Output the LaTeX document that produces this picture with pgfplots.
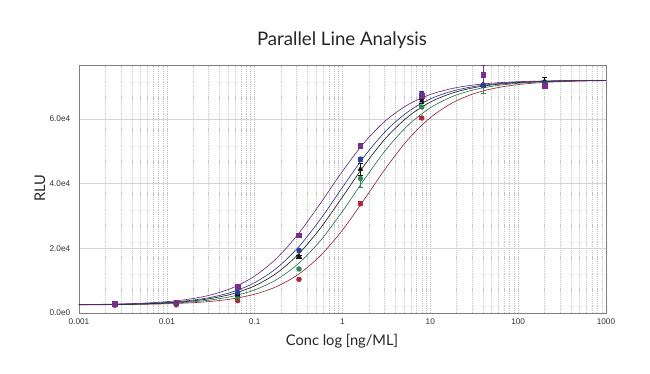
\documentclass[border=0pt]{standalone}
\usepackage{pgfplots}
\pgfplotsset{compat=1.18}
\usepackage{fontspec}
\setmainfont{Lato}
\newfontfamily\tickfont{Liberation Sans}
\definecolor{cpur}{HTML}{7A2E8C}
\definecolor{cblu}{HTML}{27409A}
\definecolor{cblk}{HTML}{111111}
\definecolor{cgrn}{HTML}{2C8A55}
\definecolor{cred}{HTML}{B3263A}
\definecolor{gridmaj}{HTML}{D4D4D4}
\definecolor{gridmin}{HTML}{C6C6C6}
\begin{document}
\begin{tikzpicture}
\path (0pt,0pt) rectangle (487.5pt,280.5pt);
\begin{axis}[
  at={(59.25pt,45.75pt)}, anchor=south west,
  scale only axis, width=395.25pt, height=186pt,
  xmode=log, log basis x=10,
  xmin=0.001, xmax=1000, ymin=0, ymax=76700,
  xtick={0.001,0.01,0.1,1,10,100,1000},
  xticklabels={0.001,0.01,0.1,1,10,100,1000},
  minor xtick={0.002,0.003,0.004,0.005,0.006,0.007,0.008,0.009,
    0.02,0.03,0.04,0.05,0.06,0.07,0.08,0.09,
    0.2,0.3,0.4,0.5,0.6,0.7,0.8,0.9,
    2,3,4,5,6,7,8,9,20,30,40,50,60,70,80,90,
    200,300,400,500,600,700,800,900},
  ytick={0,20000,40000,60000},
  yticklabels={0.0e0,2.0e4,4.0e4,6.0e4},
  scaled y ticks=false,
  major tick length=0pt, minor tick length=0pt,
  xmajorgrids, xminorgrids, ymajorgrids,
  major x grid style={gridmin, dash pattern=on 0.9pt off 0.7pt, line width=0.45pt},
  minor x grid style={gridmin, dash pattern=on 0.9pt off 0.7pt, line width=0.45pt},
  major y grid style={gridmaj, line width=0.6pt},
  axis line style={draw=black!50, line width=0.6pt},
  tick label style={font=\tickfont\fontsize{6.2}{7}\selectfont, text=black!80},
  xticklabel style={yshift=-1pt},
  yticklabel style={xshift=-3pt},
  title={Parallel Line Analysis},
  title style={at={(axis description cs:0.499,1.069)}, anchor=center, font=\fontsize{14}{16}\selectfont, text=black!85},
  xlabel={Conc log [ng/ML]},
  xlabel style={at={(axis description cs:0.499,-0.113)}, anchor=center, font=\fontsize{11}{13}\selectfont, text=black!85},
  ylabel={RLU},
  ylabel style={at={(axis description cs:-0.074,0.504)}, anchor=center, font=\fontsize{11}{13}\selectfont, text=black!85},
]
% fitted curves
\addplot[cred!80!black, line width=0.45pt, smooth] coordinates {
(0.001,2535)(0.00178,2562)(0.00316,2610)(0.00562,2695)(0.01,2846)(0.0178,3113)(0.0316,3581)(0.0562,4400)(0.1,5810)(0.178,8180)(0.316,11983)(0.562,17746)(1,25667)(1.78,35227)(3.16,45062)(5.62,53758)(10,60417)(17.8,64980)(31.6,67863)(56.2,69612)(100,70637)(178,71228)(316,71563)(562,71753)(1000,71861)};
\addplot[cgrn!80!black, line width=0.45pt, smooth] coordinates {
(0.001,2550)(0.00178,2588)(0.00316,2657)(0.00562,2778)(0.01,2993)(0.0178,3373)(0.0316,4034)(0.0562,5182)(0.1,7133)(0.178,10340)(0.316,15298)(0.562,22407)(1,31458)(1.78,41402)(3.16,50662)(5.62,58140)(10,63465)(17.8,66932)(31.6,69052)(56.2,70310)(100,71040)(178,71458)(316,71693)(562,71828)(1000,71903)};
\addplot[cblk, line width=0.45pt, smooth] coordinates {
(0.001,2564)(0.00178,2614)(0.00316,2703)(0.00562,2860)(0.01,3138)(0.0178,3627)(0.0316,4476)(0.0562,5938)(0.1,8390)(0.178,12334)(0.316,18232)(0.562,26287)(1,35913)(1.78,45755)(3.16,54297)(5.62,60798)(10,65226)(17.8,68024)(31.6,69703)(56.2,70690)(100,71258)(178,71581)(316,71763)(562,71867)(1000,71925)};
\addplot[cblu!80!black, line width=0.45pt, smooth] coordinates {
(0.001,2576)(0.00178,2636)(0.00316,2741)(0.00562,2927)(0.01,3255)(0.0178,3833)(0.0316,4832)(0.0562,6543)(0.1,9381)(0.178,13871)(0.316,20412)(0.562,29035)(1,38887)(1.78,48489)(3.16,56460)(5.62,62313)(10,66203)(17.8,68620)(31.6,70055)(56.2,70893)(100,71373)(178,71646)(316,71800)(562,71887)(1000,71937)};
\addplot[cpur!80!black, line width=0.45pt, smooth] coordinates {
(0.001,2602)(0.00178,2681)(0.00316,2821)(0.00562,3070)(0.01,3507)(0.0178,4273)(0.0316,5586)(0.0562,7806)(0.1,11410)(0.178,16919)(0.316,24550)(0.562,33949)(1,43869)(1.78,52788)(3.16,59692)(5.62,64500)(10,67574)(17.8,69443)(31.6,70537)(56.2,71169)(100,71531)(178,71735)(316,71851)(562,71916)(1000,71953)};
% data points
\addplot[only marks, mark=*, mark size=1.8pt, color=cred, error bars/.cd, y dir=both, y explicit] coordinates {
(0.00256,2400)+-(0,200) (0.0128,2500)+-(0,200) (0.064,3800)+-(0,300) (0.32,10400)+-(0,400) (1.6,33800)+-(0,600) (8,60300)+-(0,500) (40,70400)+-(0,500) (200,70500)+-(0,600)};
\addplot[only marks, mark=*, mark size=1.8pt, color=cgrn, error bars/.cd, y dir=both, y explicit] coordinates {
(0.00256,2500)+-(0,200) (0.0128,2900)+-(0,200) (0.064,5000)+-(0,300) (0.32,13600)+-(0,400) (1.6,41600)+-(0,2600) (8,63700)+-(0,500) (40,70500)+-(0,2400) (200,71400)+-(0,600)};
\addplot[only marks, mark=triangle*, mark size=2pt, color=cblk, error bars/.cd, y dir=both, y explicit] coordinates {
(0.00256,2600)+-(0,200) (0.0128,3000)+-(0,200) (0.064,5600)+-(0,300) (0.32,17500)+-(0,500) (1.6,44500)+-(0,1800) (8,65600)+-(0,600) (40,70500)+-(0,600) (200,71600)+-(0,1200)};
\addplot[only marks, mark=*, mark size=1.8pt, color=cblu, error bars/.cd, y dir=both, y explicit] coordinates {
(0.00256,2600)+-(0,200) (0.0128,3000)+-(0,200) (0.064,6400)+-(0,300) (0.32,19400)+-(0,700) (1.6,47600)+-(0,700) (8,67800)+-(0,800) (40,70500)+-(0,600) (200,71000)+-(0,700)};
\addplot[only marks, mark=square*, mark size=1.7pt, color=cpur, error bars/.cd, y dir=both, y explicit] coordinates {
(0.00256,2800)+-(0,300) (0.0128,3300)+-(0,300) (0.064,8100)+-(0,600) (0.32,24100)+-(0,600) (1.6,51800)+-(0,800) (8,67200)+-(0,900) (40,73700)+-(0,3000) (200,70300)+-(0,700)};
\end{axis}
\end{tikzpicture}
\end{document}
